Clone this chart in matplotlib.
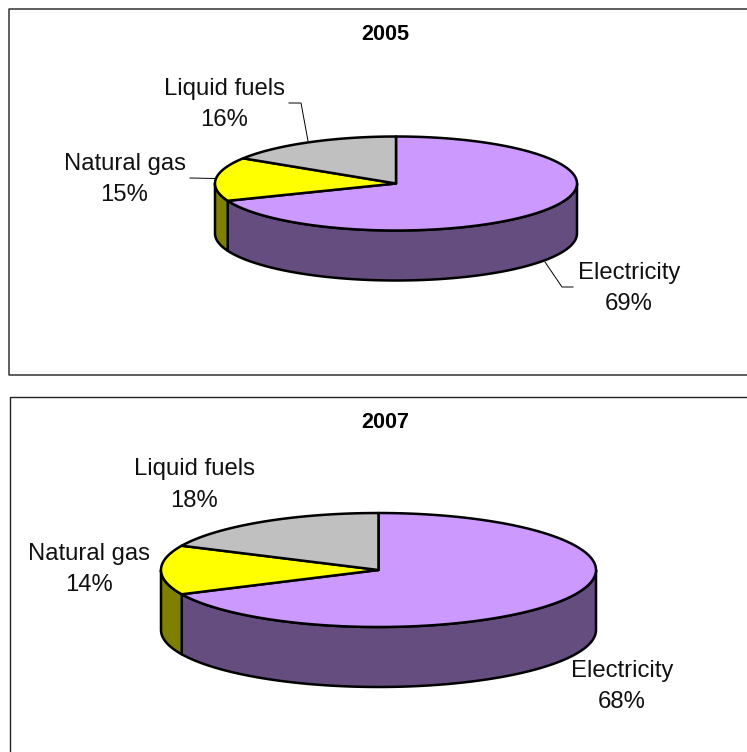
import numpy as np
import matplotlib
matplotlib.use("Agg")
import matplotlib.pyplot as plt

plt.rcParams['font.family'] = ['Liberation Sans', 'DejaVu Sans']

# ---------- Data ----------
categories = ["Electricity", "Natural gas", "Liquid fuels"]
shares_2005 = [69, 15, 16]
shares_2007 = [68, 14, 18]

top_colors = ["#CC99FF", "#FFFF00", "#C0C0C0"]
side_colors = ["#664D80", "#808000", "#606060"]

W, H = 747, 752
EDGE = 1.8


# ---------- 3D looking pie, drawn in pixel coordinates ----------
def pie_3d(ax, shares, cx, cy, rx, ry, depth):
    fracs = np.array(shares) / np.sum(shares)
    # clockwise from 12 o'clock, like the original
    edges = 90 - 360 * np.concatenate([[0], np.cumsum(fracs)])

    def rim(a, drop=0):
        t = np.radians(a)
        return cx + rx * np.cos(t), cy - ry * np.sin(t) + drop

    # side wall, only the front half is seen (-180..0 degrees)
    for i in range(len(fracs)):
        hi = min(edges[i], 0)
        lo = max(edges[i + 1], -180)
        if hi <= lo:
            continue
        a = np.linspace(hi, lo, 120)
        x0, y0 = rim(a)
        x1, y1 = rim(a[::-1], depth)
        ax.fill(np.r_[x0, x1], np.r_[y0, y1], fc=side_colors[i], ec="black",
                lw=EDGE, joinstyle="round", zorder=2)

    # top face
    for i in range(len(fracs)):
        a = np.linspace(edges[i], edges[i + 1], 300)
        x, y = rim(a)
        ax.fill(np.r_[cx, x], np.r_[cy, y], fc=top_colors[i], ec="black",
                lw=EDGE, joinstyle="round", zorder=3)


def label(ax, x, y1, y2, name, share):
    ax.text(x, y1, name, ha="center", va="center", fontsize=LABEL_SIZE, color="#111111")
    ax.text(x, y2, f"{share}%", ha="center", va="center", fontsize=LABEL_SIZE, color="#111111")


LABEL_SIZE = 17.2
TITLE_SIZE = 15.6

fig = plt.figure(figsize=(W / 100, H / 100), dpi=100)
ax = fig.add_axes([0, 0, 1, 1])
ax.set_xlim(0, W)
ax.set_ylim(H, 0)
ax.axis("off")

# ---------- Frames (run off the right and bottom of the page) ----------
ax.plot([W + 2, 9, 9, W + 2], [9, 9, 375, 375], color="#333333", lw=1.1)
ax.plot([W + 2, 10, 10], [396.5, 396.5, H + 2], color="#222222", lw=1.0)

# ---------- 2005 ----------
ax.text(385, 35, "2005", ha="center", va="center", fontsize=TITLE_SIZE, fontweight="bold")
pie_3d(ax, shares_2005, 396, 183.5, 181, 47, 50)
label(ax, 224.5, 89, 120, categories[2], shares_2005[2])
label(ax, 124.5, 164, 195, categories[1], shares_2005[1])
label(ax, 629, 273, 304, categories[0], shares_2005[0])
ax.plot([289, 301, 308], [103, 103, 141], color="black", lw=0.7, zorder=1)
ax.plot([190, 215], [178, 178.5], color="black", lw=0.7, zorder=1)
ax.plot([545, 562, 573], [262, 287, 287], color="black", lw=0.7, zorder=4)

# ---------- 2007 ----------
ax.text(385.5, 423, "2007", ha="center", va="center", fontsize=TITLE_SIZE, fontweight="bold")
pie_3d(ax, shares_2007, 378.5, 570, 217.5, 57, 60)
label(ax, 194, 469, 501, categories[2], shares_2007[2])
label(ax, 89, 554, 585, categories[1], shares_2007[1])
label(ax, 622, 671, 702, categories[0], shares_2007[0])

fig.savefig("out.png", dpi=100)
